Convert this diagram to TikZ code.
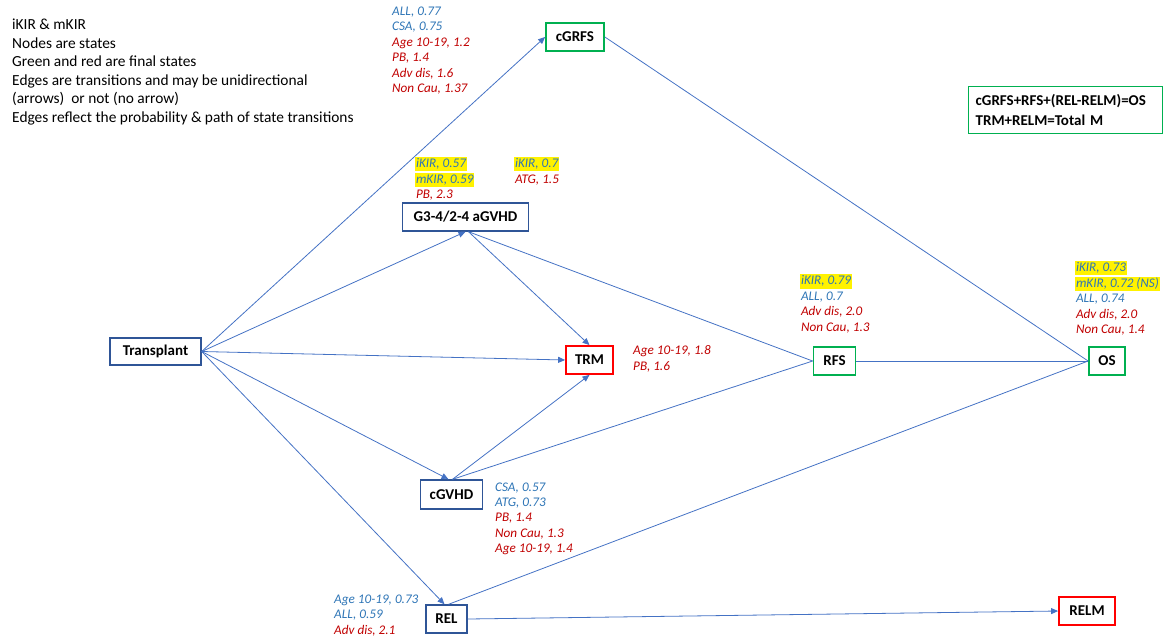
\documentclass[tikz,border=0pt]{standalone}
\usepackage{fontspec}
\setmainfont{Carlito}
\usetikzlibrary{arrows.meta}
\definecolor{nodeblue}{HTML}{2F5597}
\definecolor{edgeblue}{HTML}{4472C4}
\definecolor{annblue}{HTML}{2E75B6}
\definecolor{annred}{HTML}{C00000}
\definecolor{fingreen}{HTML}{00B050}
\definecolor{finred}{HTML}{FF0000}
\begin{document}
\begin{tikzpicture}[x=1pt,y=-1pt,
  state/.style={draw=nodeblue,line width=1.4pt,fill=white,inner sep=0pt,
    font=\fontsize{15}{17}\selectfont\bfseries},
  greenstate/.style={state,draw=fingreen,line width=1.8pt},
  redstate/.style={state,draw=finred,line width=1.8pt},
  edge/.style={draw=edgeblue,line width=0.8pt},
  arr/.style={edge,-{Triangle[length=7pt,width=6pt]}},
  ann/.style={anchor=west,inner sep=0pt,text height=9.5pt,text depth=2.8pt,
    font=\fontsize{13.2}{15}\selectfont\itshape},
  ab/.style={ann,text=annblue},
  ar/.style={ann,text=annred},
  hl/.style={ab,fill=yellow,inner xsep=0.8pt,inner ysep=1.3pt},
  legend/.style={anchor=west,inner sep=0pt,text height=10pt,text depth=3pt,
    font=\fontsize{15.4}{18}\selectfont}
]
\useasboundingbox (0,0) rectangle (1164,641);

% states
\node[state,minimum width=91pt,minimum height=27pt] (T) at (155.5,351.5) {Transplant};
\node[greenstate,minimum width=58pt,minimum height=28pt] (CGRFS) at (575,37) {cGRFS};
\node[state,minimum width=126pt,minimum height=28pt] (AG) at (465.5,217) {G3-4/2-4 aGVHD};
\node[redstate,minimum width=47pt,minimum height=28pt] (TRM) at (589.5,360) {TRM};
\node[greenstate,minimum width=42pt,minimum height=28pt] (RFS) at (834.5,361) {RFS};
\node[greenstate,minimum width=36pt,minimum height=28pt] (OS) at (1107,361) {OS};
\node[state,minimum width=62pt,minimum height=29pt] (CG) at (451.5,494.5) {cGVHD};
\node[state,minimum width=41pt,minimum height=28pt] (REL) at (446.5,619) {REL};
\node[redstate,minimum width=56pt,minimum height=28pt] (RELM) at (1087,611) {RELM};

% edges
\draw[arr] (T.east) -- (CGRFS.west);
\draw[arr] (T.east) -- (AG.south);
\draw[arr] (T.east) -- (TRM.west);
\draw[arr] (T.east) -- ([xshift=-3pt]CG.north);
\draw[arr] (T.east) -- ([xshift=-2pt]REL.north);
\draw[arr] ([xshift=3pt]AG.south) -- (TRM.north);
\draw[edge] ([xshift=3pt]AG.south) -- (RFS.west);
\draw[arr] ([xshift=1pt]CG.north) -- (TRM.south);
\draw[edge] ([xshift=1pt]CG.north) -- (RFS.west);
\draw[edge] (CGRFS.east) -- (OS.west);
\draw[edge] (RFS.east) -- (OS.west);
\draw[edge] ([xshift=2pt]REL.north) -- (OS.west);
\draw[arr] (REL.east) -- (RELM.west);

% legend text
\node[legend] (L1) at (12,26) {iKIR \& mKIR};
\node[legend] (L2) at (12,44.6) {Nodes are states};
\node[legend] (L3) at (12,63.2) {Green and red are final states};
\node[legend] (L4) at (12,81.8) {Edges are transitions and may be unidirectional};
\node[legend] (L5) at (12,100.4) {(arrows)\ \ or not (no arrow)};
\node[legend] (L6) at (12,119) {Edges reflect the probability \& path of state transitions};

% formula box
\node[draw=fingreen,line width=1.4pt,anchor=north west,inner xsep=7pt,inner ysep=0pt,
  text width=180pt,minimum height=47pt,align=left,
  font=\fontsize{15}{19.5}\selectfont\bfseries] (F) at (968,86)
  {cGRFS+RFS+(REL-RELM)=OS\\TRM+RELM=Total M};

% cGRFS annotations
\node[ab] (c1) at (392,11.7) {ALL, 0.77};
\node[ab] (c2) at (392,27.2) {CSA, 0.75};
\node[ar] (c3) at (392,42.7) {Age 10-19, 1.2};
\node[ar] (c4) at (392,58.2) {PB, 1.4};
\node[ar] (c5) at (392,73.7) {Adv dis, 1.6};
\node[ar] (c6) at (392,89.2) {Non Cau, 1.37};

% aGVHD annotations
\node[hl] (g1) at (415,164) {iKIR, 0.57};
\node[hl] (g2) at (415,180) {mKIR, 0.59};
\node[ar] (g3) at (415.8,195.5) {PB, 2.3};
\node[hl] (g4) at (514,164) {iKIR, 0.7};
\node[ar] (g5) at (514.8,180) {ATG, 1.5};

% TRM annotations
\node[ar] (t1) at (633,351.5) {Age 10-19, 1.8};
\node[ar] (t2) at (633,367) {PB, 1.6};

% RFS annotations
\node[hl] (r1) at (800,281.5) {iKIR, 0.79};
\node[ab] (r2) at (800.8,297) {ALL, 0.7};
\node[ar] (r3) at (800.8,312.5) {Adv dis, 2.0};
\node[ar] (r4) at (800.8,328) {Non Cau, 1.3};

% OS annotations
\node[hl] (o1) at (1075,268) {iKIR, 0.73};
\node[hl] (o2) at (1075,284) {mKIR, 0.72 (NS)};
\node[ab] (o3) at (1075.8,299.5) {ALL, 0.74};
\node[ar] (o4) at (1075.8,315) {Adv dis, 2.0};
\node[ar] (o5) at (1075.8,330.5) {Non Cau, 1.4};

% cGVHD annotations
\node[ab] (v1) at (495,488) {CSA, 0.57};
\node[ab] (v2) at (495,503.3) {ATG, 0.73};
\node[ar] (v3) at (495,518.6) {PB, 1.4};
\node[ar] (v4) at (495,533.9) {Non Cau, 1.3};
\node[ar] (v5) at (495,549.2) {Age 10-19, 1.4};

% REL annotations
\node[ab] (e1) at (334,600) {Age 10-19, 0.73};
\node[ab] (e2) at (334,615.5) {ALL, 0.59};
\node[ar] (e3) at (334,631) {Adv dis, 2.1};
\end{tikzpicture}
\end{document}
